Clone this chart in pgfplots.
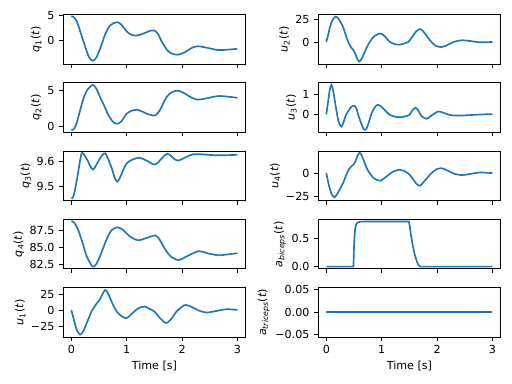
\documentclass[border=0pt]{standalone}
\usepackage{pgfplots}
\pgfplotsset{compat=1.18}
\usepackage{fontspec}
\setmainfont{DejaVu Sans}
\definecolor{tabblue}{HTML}{1F77B4}
\newcommand{\lab}[2]{\textit{#1}\textsubscript{#2}(\textit{t})}
\pgfplotsset{
  base/.style={
    anchor=north west,
    scale only axis,
    width=164.5pt, height=44.7pt,
    xmin=-0.15, xmax=3.15,
    xtick={0,1,2,3}, xticklabels={},
    scaled y ticks=false, scaled x ticks=false,
    tick align=outside, tick pos=left,
    major tick length=3.5pt,
    every tick/.style={black, line width=0.8pt},
    axis line style={line width=0.8pt},
    every axis/.append style={line width=0.8pt},
    tick label style={font=\fontsize{10}{12}\selectfont},
    label style={font=\fontsize{10}{12}\selectfont},
    yticklabel style={xshift=-0.5pt},
    ylabel style={yshift=-2pt},
  },
  bot/.style={xticklabels={0,1,2,3}, xlabel={Time [s]}},
  ln/.style={color=tabblue, line width=1.5pt, smooth, tension=0.5},
}
\begin{document}
\begin{tikzpicture}
\useasboundingbox (0,0) rectangle (460.8pt,345.6pt);
% ---------- left column ----------
\begin{axis}[base, at={(56.7pt,332.55pt)}, ymin=-4.8, ymax=5.2, ytick={0,5}, yticklabels={0,5}, ylabel={\lab{q}{1}}]
\addplot[ln] coordinates {(0,4.85) (0.04,4.7) (0.1,3.8) (0.19,0.8) (0.26,-1.6) (0.32,-3.4) (0.385,-4.1) (0.45,-3.5) (0.53,-1.4) (0.61,1.15) (0.7,3.0) (0.82,3.65) (0.9,3.2) (1.0,1.8) (1.08,1.15) (1.18,0.95) (1.3,1.35) (1.42,1.9) (1.5,1.96) (1.57,1.2) (1.63,-0.2) (1.72,-1.8) (1.8,-2.6) (1.92,-2.9) (2.05,-2.4) (2.18,-1.5) (2.29,-1.2) (2.45,-1.5) (2.65,-1.96) (2.8,-1.9) (3.0,-1.7)};
\end{axis}
\begin{axis}[base, at={(56.7pt,271.125pt)}, ymin=-0.8, ymax=6.1, ytick={0,5}, yticklabels={0,5}, ylabel={\lab{q}{2}}]
\addplot[ln] coordinates {(0,-0.5) (0.05,-0.3) (0.1,0.6) (0.16,2.3) (0.22,3.9) (0.28,5.0) (0.385,5.8) (0.45,5.3) (0.52,4.1) (0.6,2.8) (0.67,1.6) (0.75,0.7) (0.82,0.4) (0.9,0.7) (1.0,1.8) (1.1,2.25) (1.18,2.36) (1.28,2.1) (1.36,1.8) (1.45,1.6) (1.52,1.57) (1.6,2.3) (1.72,4.1) (1.82,4.8) (1.93,5.0) (2.05,4.6) (2.18,4.0) (2.29,3.75) (2.45,3.95) (2.6,4.2) (2.68,4.26) (2.85,4.15) (3.0,4.0)};
\end{axis}
\begin{axis}[base, at={(56.7pt,209.7pt)}, ymin=9.445, ymax=9.641, ytick={9.5,9.6}, yticklabels={9.5,9.6}, ylabel={\lab{q}{3}}]
\addplot[ln] coordinates {(0,9.454) (0.04,9.463) (0.10,9.526) (0.16,9.605) (0.2,9.634) (0.29,9.605) (0.39,9.568) (0.5,9.605) (0.61,9.632) (0.72,9.579) (0.83,9.520) (1.0,9.592) (1.21,9.614) (1.36,9.603) (1.52,9.588) (1.73,9.630) (1.92,9.603) (2.2,9.628) (2.63,9.624) (3.0,9.626)};
\end{axis}
\begin{axis}[base, at={(56.7pt,148.275pt)}, ymin=81.8, ymax=89.07, ytick={82.5,85,87.5}, yticklabels={82.5,85.0,87.5}, ylabel={\lab{q}{4}}]
\addplot[ln] coordinates {(0,88.8) (0.05,88.6) (0.12,87.6) (0.2,85.7) (0.28,83.6) (0.385,82.15) (0.45,82.5) (0.53,83.9) (0.62,85.8) (0.72,87.4) (0.84,87.9) (0.95,87.4) (1.05,86.6) (1.2,86.0) (1.35,86.3) (1.52,86.7) (1.6,86.0) (1.7,84.6) (1.8,83.6) (1.94,83.1) (2.1,83.7) (2.3,84.4) (2.45,84.1) (2.65,83.8) (2.8,83.9) (3.0,84.1)};
\end{axis}
\begin{axis}[base, bot, at={(56.7pt,86.85pt)}, ymin=-42, ymax=35.4, ytick={-25,0,25}, yticklabels={−25,0,25}, ylabel={\lab{u}{1}}]
\addplot[ln] coordinates {(0,0.5) (0.05,-16) (0.1,-31) (0.16,-38) (0.22,-32) (0.31,-13.4) (0.37,-1) (0.43,7) (0.47,12) (0.5,14.5) (0.53,19) (0.58,28) (0.61,31.4) (0.64,30) (0.71,17) (0.76,7.2) (0.85,-5) (0.985,-12.4) (1.1,-5) (1.2,2.5) (1.32,5.7) (1.45,0.5) (1.5,-2) (1.6,-12) (1.71,-20) (1.8,-14) (1.9,-2) (2.0,5.5) (2.07,8.2) (2.2,4) (2.3,-0.5) (2.44,-3.6) (2.6,-1.5) (2.8,1.5) (3.0,0.5)};
\end{axis}
% ---------- right column ----------
\begin{axis}[base, at={(286.2pt,332.55pt)}, ymin=-24.5, ymax=30.3, ytick={0,25}, yticklabels={0,25}, ylabel={\lab{u}{2}}]
\addplot[ln] coordinates {(0,0) (0.03,7) (0.06,15) (0.1,22.5) (0.163,28) (0.22,25.5) (0.3,16.8) (0.36,6) (0.41,-1.9) (0.46,-7) (0.49,-9) (0.53,-14) (0.56,-19) (0.6,-21.6) (0.65,-17) (0.7,-10) (0.75,-3.7) (0.85,5.5) (0.97,9.3) (1.05,6.5) (1.15,0) (1.25,-2.6) (1.32,-3) (1.42,-1.6) (1.48,0) (1.55,5.5) (1.62,11.5) (1.69,14.2) (1.76,11) (1.87,1.9) (1.97,-4) (2.08,-5.6) (2.2,-3) (2.3,0) (2.45,1.9) (2.6,1.0) (2.78,-0.4) (3.0,0)};
\end{axis}
\begin{axis}[base, at={(286.2pt,271.125pt)}, ymin=-0.91, ymax=1.61, ytick={0,1}, yticklabels={0,1}, ylabel={\lab{u}{3}}]
\addplot[ln] coordinates {(0,0) (0.03,0.6) (0.06,1.2) (0.09,1.5) (0.12,1.25) (0.15,0.75) (0.18,0.24) (0.22,-0.35) (0.27,-0.61) (0.31,-0.4) (0.35,-0.05) (0.39,0.15) (0.45,0.38) (0.51,0.44) (0.55,0.25) (0.58,-0.05) (0.63,-0.45) (0.67,-0.72) (0.71,-0.78) (0.75,-0.55) (0.82,0.07) (0.88,0.38) (0.935,0.49) (1.0,0.38) (1.08,0.15) (1.15,-0.02) (1.25,-0.12) (1.33,-0.14) (1.42,-0.1) (1.5,-0.02) (1.55,0.2) (1.61,0.34) (1.66,0.2) (1.72,-0.08) (1.81,-0.22) (1.9,-0.05) (2.02,0.15) (2.1,0.1) (2.2,0.0) (2.29,-0.05) (2.45,-0.05) (2.6,-0.03) (2.8,0.0) (3.0,0.02)};
\end{axis}
\begin{axis}[base, at={(286.2pt,209.7pt)}, ymin=-29.7, ymax=23.9, ytick={-25,0}, yticklabels={−25,0}, ylabel={\lab{u}{4}}]
\addplot[ln] coordinates {(0,0) (0.05,-14) (0.1,-23) (0.15,-26) (0.2,-22) (0.3,-11) (0.36,-2) (0.41,4.3) (0.46,7.8) (0.49,9.2) (0.52,12) (0.56,18) (0.6,22) (0.64,19) (0.7,10) (0.75,3.2) (0.85,-5) (0.97,-8.2) (1.1,-3) (1.2,1.5) (1.32,3.6) (1.42,2) (1.48,-0.4) (1.55,-5) (1.62,-11) (1.69,-13.6) (1.78,-8) (1.9,0) (2.0,4.5) (2.08,5.4) (2.2,2.5) (2.3,-0.5) (2.45,-2.1) (2.6,-0.8) (2.78,0.7) (3.0,0)};
\end{axis}
\begin{axis}[base, at={(286.2pt,148.275pt)}, ymin=-0.04, ymax=0.84, ytick={0,0.5}, yticklabels={0.0,0.5}, ylabel={\lab{a}{\textit{biceps}}}]
\addplot[color=tabblue, line width=1.5pt] coordinates {(0,0) (0.49,0) (0.50,0.35) (0.51,0.55) (0.52,0.67) (0.54,0.75) (0.57,0.785) (0.62,0.797) (0.7,0.8) (1.49,0.8) (1.51,0.7) (1.53,0.55) (1.56,0.38) (1.60,0.2) (1.64,0.08) (1.67,0.02) (1.70,0.0) (3.0,0)};
\end{axis}
\begin{axis}[base, bot, at={(286.2pt,86.85pt)}, ymin=-0.055, ymax=0.055, ytick={-0.05,0,0.05}, yticklabels={−0.05,0.00,0.05}, ylabel={\lab{a}{\textit{triceps}}}]
\addplot[color=tabblue, line width=1.5pt] coordinates {(0,0) (3,0)};
\end{axis}
\end{tikzpicture}
\end{document}
